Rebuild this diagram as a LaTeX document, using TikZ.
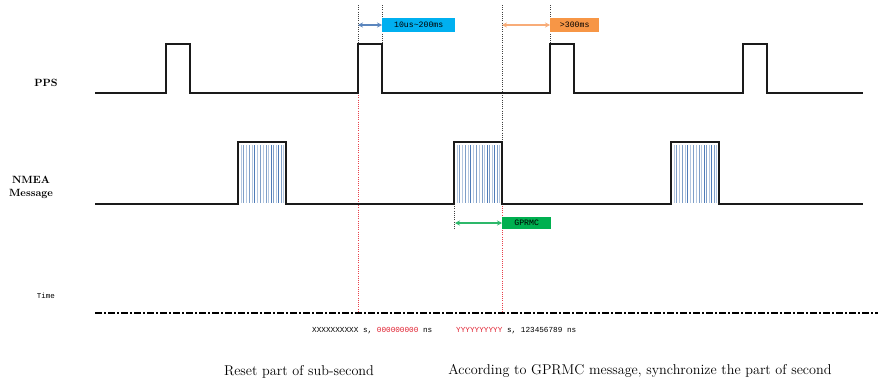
\documentclass[tikz,border=0pt]{standalone}
\usepackage{fontspec}
\newfontfamily\monof{Liberation Mono}
\usetikzlibrary{arrows.meta}
\definecolor{sig}{HTML}{1A1A1A}
\definecolor{stra}{HTML}{B4C7E0}
\definecolor{strb}{HTML}{7F9FC8}
\definecolor{strc}{HTML}{4F7CB8}
\definecolor{boxblue}{HTML}{00B0F0}
\definecolor{boxorange}{HTML}{F79646}
\definecolor{boxgreen}{HTML}{00B050}
\definecolor{arrblue}{HTML}{5B86BE}
\definecolor{arrorange}{HTML}{F8AC78}
\definecolor{arrgreen}{HTML}{2DB86A}
\definecolor{mred}{HTML}{E02030}
\definecolor{dotred}{HTML}{E8404A}
\begin{document}
\begin{tikzpicture}[x=1pt,y=-1pt,
  signal/.style={draw=sig,line width=1.7pt,line join=miter},
  guide/.style={draw=black!75,line width=0.6pt,dash pattern=on 1pt off 1.2pt},
  redguide/.style={draw=dotred,line width=0.6pt,dash pattern=on 1pt off 1.2pt},
  tag/.style={inner sep=0pt,minimum height=14pt,anchor=west,font=\monof\fontsize{8.2}{9}\selectfont},
  dbl/.style={line width=1.3pt,{Stealth[length=5pt,width=5pt]}-{Stealth[length=5pt,width=5pt]}},
  lbl/.style={font=\bfseries\fontsize{10.5}{12}\selectfont,align=center,inner sep=0pt},
  captxt/.style={font=\fontsize{14.2}{16}\selectfont,inner sep=0pt},
  mono/.style={font=\monof\fontsize{7.7}{9}\selectfont,inner sep=0pt,anchor=west}]
\useasboundingbox (0,0) rectangle (878,383);

% guide lines
\draw[guide] (358,5) -- (358,93);
\draw[redguide] (358,93) -- (358,312);
\draw[guide] (382,5) -- (382,44);
\draw[guide] (502,5) -- (502,142);
\draw[redguide] (502,142) -- (502,312);
\draw[guide] (550,5) -- (550,44);
\draw[guide] (454,204) -- (454,230);

% stripes in NMEA pulses
\foreach \L in {238,454,671}{
  \foreach \o/\c in {3.3/stra,5.7/strb,8.3/stra,11.3/strb,14.3/stra,16.7/strc,19/stra,22.3/strb,25.7/stra,28/strb,30.3/stra,33/strc,35.7/strb,38.3/stra,40.7/strc,43.3/strb,45.7/stra}{
    \draw[\c,line width=0.8pt] (\L+\o,145) -- (\L+\o,203);
  }
}

% PPS signal
\draw[signal] (95,93) -- (166,93) -- (166,44) -- (190,44) -- (190,93) -- (358,93) -- (358,44) -- (382,44) -- (382,93) -- (550,93) -- (550,44) -- (574,44) -- (574,93) -- (743,93) -- (743,44) -- (767,44) -- (767,93) -- (863,93);
% NMEA signal
\draw[signal] (95,204) -- (238,204) -- (238,142) -- (286,142) -- (286,204) -- (454,204) -- (454,142) -- (502,142) -- (502,204) -- (671,204) -- (671,142) -- (719,142) -- (719,204) -- (863,204);

% labels
\node[lbl] (pps) at (46,83) {PPS};
\node[lbl] (nmea) at (31,187) {NMEA\\[1pt]Message};
\node[font=\monof\fontsize{7.5}{9}\selectfont,inner sep=0pt] (time) at (46,296) {Time};

% time axis
\draw[line width=1.8pt,dash pattern=on 7pt off 2pt on 2pt off 2pt] (95,313) -- (878,313);

% tags and arrows
\node[tag,fill=boxblue,minimum width=73pt] (tb) at (382,25) {10us\textasciitilde200ms};
\coordinate (sb) at (358,25);
\draw[dbl,arrblue] (sb) -- (tb.west);
\node[tag,fill=boxorange,minimum width=49pt] (to) at (550,25) {>300ms};
\coordinate (so) at (502,25);
\draw[dbl,arrorange] (so) -- (to.west);
\node[tag,fill=boxgreen,minimum width=49pt,minimum height=12pt] (tg) at (502,223) {GPRMC};
\coordinate (sg) at (455,223);
\draw[dbl,arrgreen] (sg) -- (tg.west);

% time values
\node[mono] (xs) at (312,331) {XXXXXXXXXX s, \textcolor{mred}{000000000} ns};
\node[mono] (ys) at (456,331) {\textcolor{mred}{YYYYYYYYYY} s, 123456789 ns};

% captions
\node[captxt] (reset) at (299,372) {Reset part of sub-second};
\node[captxt] (sync) at (640,371) {According to GPRMC message, synchronize the part of second};
\end{tikzpicture}
\end{document}
